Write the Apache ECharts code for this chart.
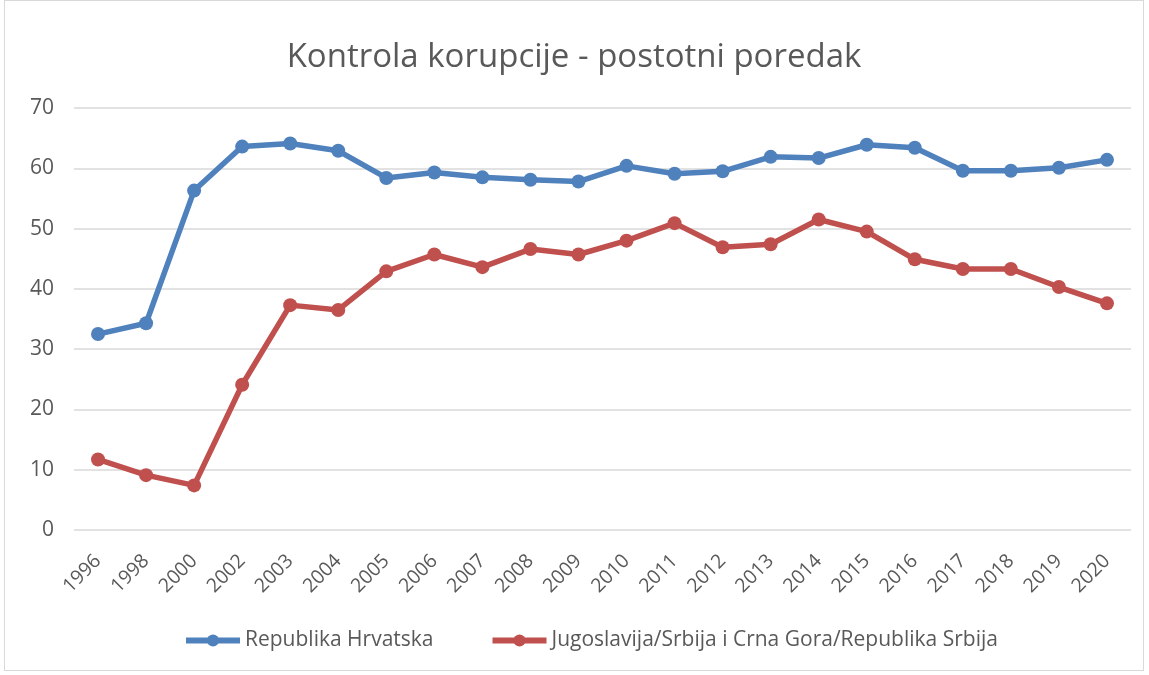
<!DOCTYPE html>
<html>
<head>
<meta charset="utf-8">
<script src="https://cdn.jsdelivr.net/npm/echarts@6/dist/echarts.min.js"></script>
<style>
  html, body { margin: 0; padding: 0; background: #fff; }
  #chart { position: absolute; left: 4px; top: 0; width: 1140px; height: 671px; border: 1px solid #d9d9d9; box-sizing: border-box; }
</style>
</head>
<body>
<div id="chart"></div>
<script>
// godine
var years = ['1996', '1998', '2000', '2002', '2003', '2004', '2005', '2006', '2007', '2008', '2009',
  '2010', '2011', '2012', '2013', '2014', '2015', '2016', '2017', '2018', '2019', '2020'];
var hrvatska = [32.5, 34.3, 56.3, 63.6, 64.1, 62.9, 58.4, 59.3, 58.5, 58.1, 57.8,
  60.4, 59.1, 59.5, 61.9, 61.7, 63.9, 63.4, 59.6, 59.6, 60.1, 61.4];
var srbija = [11.7, 9.1, 7.4, 24.1, 37.3, 36.5, 42.9, 45.7, 43.6, 46.6, 45.7,
  48.0, 50.9, 46.9, 47.4, 51.5, 49.5, 44.9, 43.3, 43.3, 40.3, 37.6];
var seriesNames = ['Republika Hrvatska', 'Jugoslavija/Srbija i Crna Gora/Republika Srbija'];

var font = "'Open Sans', 'Liberation Sans', sans-serif";
var chart = echarts.init(document.getElementById('chart'));
chart.setOption({
  animation: false,
  title: {
    text: 'Kontrola korupcije - postotni poredak',
    left: 'center',
    top: 35,
    textStyle: { fontFamily: font, fontSize: 33, fontWeight: 'normal', color: '#595959' }
  },
  legend: {
    bottom: 14,
    left: 173,
    itemGap: 56,
    itemWidth: 54,
    itemHeight: 15,
    lineStyle: { width: 6 },
    textStyle: { fontFamily: font, fontSize: 21, color: '#595959' },
    data: seriesNames
  },
  grid: { left: 69, right: 12, top: 107, bottom: 140, containLabel: false },
  xAxis: {
    type: 'category',
    data: years,
    boundaryGap: true,
    axisLine: { show: false },
    axisTick: { show: false },
    axisLabel: { rotate: 45, margin: 28, fontFamily: font, fontSize: 19.5, color: '#595959' }
  },
  yAxis: {
    type: 'value',
    min: 0,
    max: 70,
    interval: 10,
    axisLine: { show: false },
    axisTick: { show: false },
    axisLabel: { margin: 20, fontFamily: font, fontSize: 21, color: '#595959' },
    splitLine: { lineStyle: { color: '#d9d9d9', width: 1.5 } }
  },
  series: [
    {
      name: seriesNames[0],
      type: 'line',
      data: hrvatska,
      symbol: 'circle',
      symbolSize: 14,
      color: '#4f81bd',
      lineStyle: { width: 5.5 }
    },
    {
      name: seriesNames[1],
      type: 'line',
      data: srbija,
      symbol: 'circle',
      symbolSize: 14,
      color: '#c0504d',
      lineStyle: { width: 5.5 }
    }
  ]
});
</script>
</body>
</html>
